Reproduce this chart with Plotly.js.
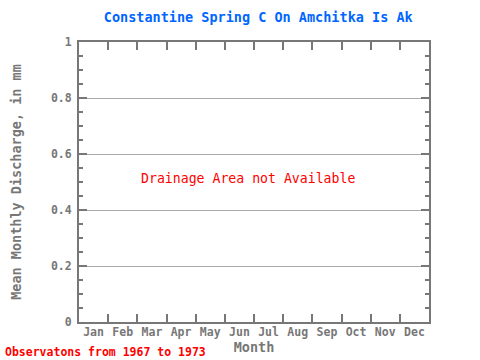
<!DOCTYPE html>
<html>
<head>
<meta charset="utf-8">
<script src="https://cdn.plot.ly/plotly-3.0.1.min.js"></script>
<style>html,body{margin:0;padding:0;background:#fff;}#chart{width:480px;height:360px;}</style>
</head>
<body>
<div id="chart"></div>
<script>
const months = ['Jan','Feb','Mar','Apr','May','Jun','Jul','Aug','Sep','Oct','Nov','Dec'];
const discharge = [null,null,null,null,null,null,null,null,null,null,null,null];
const titleText = 'Constantine Spring C On Amchitka Is Ak';
const noteText = 'Drainage Area not Available';
const obsText = 'Observatons from 1967 to 1973';

const FONT = 'DejaVu Sans Mono, Liberation Mono, monospace';
const GRAY = '#777777';

Plotly.newPlot('chart', [{
  type: 'scatter', mode: 'lines', x: months, y: discharge,
  line: {color: '#0000ff'}, hoverinfo: 'skip', showlegend: false
}], {
  width: 480, height: 360,
  margin: {l: 79, r: 51, t: 42, b: 38, pad: 0},
  paper_bgcolor: '#ffffff', plot_bgcolor: '#ffffff',
  showlegend: false,
  title: {text: titleText, font: {family: FONT, size: 13.5, color: '#0066ff', weight: 'bold'},
          x: 0.538, xanchor: 'center', y: 0.952, yanchor: 'middle'},
  xaxis: {
    type: 'category', categoryorder: 'array', categoryarray: months,
    range: [-0.5, 11.5], tickson: 'boundaries', tickangle: 0,
    ticks: 'inside', ticklen: 8, tickwidth: 2, tickcolor: GRAY,
    ticklabelstandoff: -2,
    showgrid: false, zeroline: false,
    showline: true, linewidth: 2, linecolor: GRAY, mirror: 'ticks',
    tickfont: {family: FONT, size: 11.5, color: GRAY, weight: 'bold'},
    title: {text: 'Month', font: {family: FONT, size: 13.5, color: GRAY, weight: 'bold'}, standoff: 3},
    fixedrange: true
  },
  yaxis: {
    range: [0, 1], tickmode: 'linear', tick0: 0, dtick: 0.2,
    ticks: 'inside', ticklen: 8, tickwidth: 2, tickcolor: GRAY,
    ticklabelstandoff: 3,
    minor: {tickmode: 'linear', tick0: 0, dtick: 0.05, ticks: 'inside', ticklen: 4, tickwidth: 2, tickcolor: GRAY, showgrid: false},
    showgrid: true, gridcolor: '#aaaaaa', gridwidth: 1, zeroline: false,
    showline: true, linewidth: 2, linecolor: GRAY, mirror: 'ticks',
    tickfont: {family: FONT, size: 11.5, color: GRAY, weight: 'bold'},
    title: {text: 'Mean Monthly Discharge, in mm', font: {family: FONT, size: 13.5, color: GRAY, weight: 'bold'}, standoff: 26},
    fixedrange: true
  },
  annotations: [
    {text: noteText, xref: 'paper', yref: 'y', x: 0.483, y: 0.513, showarrow: false,
     font: {family: FONT, size: 13.2, color: '#ff0000'}, xanchor: 'center', yanchor: 'middle'},
    {text: obsText, xref: 'paper', yref: 'paper', x: -0.218, y: -0.108,
     xanchor: 'left', yanchor: 'middle', showarrow: false,
     font: {family: FONT, size: 11.5, color: '#ff0000', weight: 'bold'}}
  ]
}, {displayModeBar: false, staticPlot: true});
</script>
</body>
</html>
